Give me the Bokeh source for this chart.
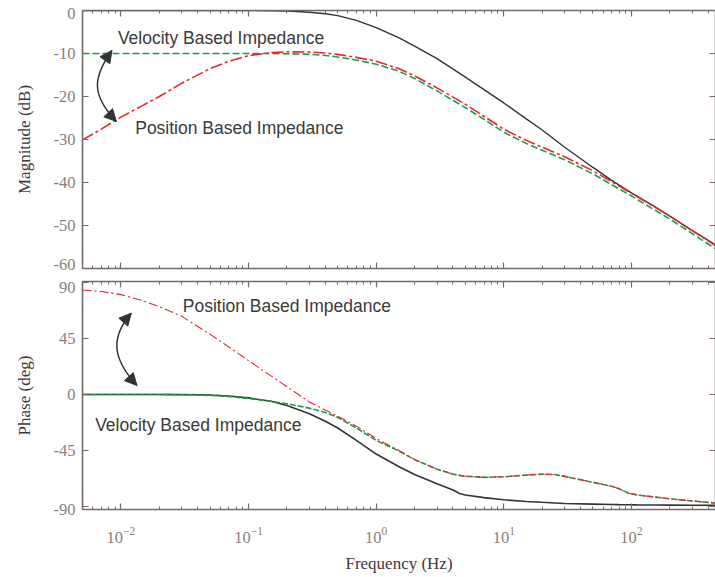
import json
from bokeh.plotting import figure
from bokeh.layouts import column
from bokeh.models import (ColumnDataSource, FixedTicker, LogAxis, LinearAxis,
                          Range1d, Arrow, NormalHead, CustomJSTickFormatter)
from bokeh.core.properties import value
from bokeh.embed import file_html
from bokeh.resources import INLINE

# ---------------- data ----------------
freq_mag = [0.005, 0.007, 0.01, 0.015, 0.02, 0.03, 0.05, 0.07, 0.1, 0.15, 0.2,
            0.3, 0.4, 0.5, 0.7, 1, 1.5, 2, 3, 5, 7, 10, 15, 20, 30, 50, 70,
            100, 150, 200, 300, 456]
black_mag = [0, 0, 0, 0, 0, 0, 0, 0, -0.02, -0.05, -0.1, -0.4, -0.75, -1.2,
             -2.3, -4.0, -6.3, -8.3, -11.2, -15.5, -18.4, -21.5, -25.2, -27.8,
             -31.8, -36.5, -39.5, -42.4, -45.5, -47.8, -51.2, -54.5]
red_mag = [-30.1, -27.6, -24.8, -22.0, -20.0, -16.9, -13.5, -11.8, -10.5,
           -9.8, -9.6, -9.65, -9.9, -10.2, -10.9, -11.8, -13.5, -15.2, -18.0,
           -21.8, -24.6, -27.6, -30.2, -31.8, -34.0, -37.3, -39.8, -42.5,
           -45.6, -47.8, -51.2, -54.7]
green_mag = [-10, -10, -10, -10, -10, -10, -10, -10, -10, -10, -10.05, -10.2,
             -10.45, -10.8, -11.5, -12.5, -14.1, -15.8, -18.7, -22.6, -25.3,
             -28.3, -30.9, -32.5, -34.7, -38.0, -40.5, -43.1, -46.3, -48.5,
             -51.9, -55.4]

freq_ph = [0.005, 0.007, 0.01, 0.015, 0.02, 0.03, 0.04, 0.05, 0.07, 0.1, 0.15,
           0.2, 0.3, 0.4, 0.5, 0.7, 1, 1.5, 2, 3, 4, 4.5, 5, 7, 10, 15, 20,
           25, 30, 50, 70, 80, 95, 110, 150, 200, 300, 456]
black_ph = [0, 0, 0, 0, 0, -0.1, -0.2, -0.4, -1.2, -2.7, -5.5, -8.8, -15.5,
            -21.5, -27, -37, -48, -58, -64.5, -72, -77, -79.8, -81, -83.1,
            -84.9, -86.2, -86.9, -87.4, -87.9, -88.4, -88.7, -88.8, -88.9,
            -89.0, -89.1, -89.2, -89.3, -89.4]
green_ph = [0, 0, 0, 0, 0, -0.2, -0.4, -0.7, -1.6, -3.2, -5.5, -7.4, -11,
            -14.5, -18.5, -27, -37, -45.5, -52.5, -60.2, -64.2, -65.2, -65.9,
            -66.8, -66.3, -65, -64.2, -64.5, -66, -70.8, -74, -76, -79.6,
            -80.9, -82.6, -84.1, -85.8, -87.5]
red_ph = [84.2, 83.1, 80.5, 75.5, 70.8, 63.0, 54.8, 48.5, 38.4, 27.3, 15.0, 6.3,
          -6.0, -12.5, -17.5, -25.5, -35.5, -45, -52.3, -60.2, -64.2, -65.2,
          -65.9, -66.8, -66.3, -65, -64.2, -64.5, -66, -70.8, -74, -76, -79.6,
          -80.9, -82.6, -84.1, -85.8, -87.5]

x_major = [0.01, 0.1, 1, 10, 100]
mag_ticks = [-60, -50, -40, -30, -20, -10, 0]
ph_ticks = [-90, -45, 0, 45, 90]
# tick labels and where they sit (the end labels sit slightly inside the frame)
mag_labels = ["-60", "-50", "-40", "-30", "-20", "-10", "0"]
mag_label_pos = [-59.0, -50, -40, -30, -20, -10, -0.8]
ph_labels = ["-90", "-45", "0", "45", "90"]
ph_label_pos = [-92.3, -45, 0, 45, 86.6]

# annotation texts and positions (x in Hz, y in axis units)
mag_notes = ["Velocity Based Impedance", "Position Based Impedance"]
mag_note_x = [0.00947, 0.01294]
mag_note_y = [-6.3, -27.4]
ph_notes = ["Position Based Impedance", "Velocity Based Impedance"]
ph_note_x = [0.0305, 0.00628]
ph_note_y = [71.0, -24.9]

# curved double arrows: (x0, y0, cx0, cy0, cx1, cy1, x1, y1, sx0, sy0, sx1, sy1)
mag_arrow = (0.0085, -9.3, 0.005922, -15.81, 0.005922, -19.77, 0.009218, -25.81,
             0.007627, -11.26, 0.008074, -24.0)
ph_arrow = (0.012045, 65.6, 0.008052, 45.0, 0.008813, 27.5, 0.013351, 7.3,
            0.010671, 59.44, 0.011787, 13.38)

X_RANGE = (0.005, 456)

# ---------------- styling ----------------
AXIS_COLOR = "#756a66"
TICK_LABEL_COLOR = "#8a7e79"
AXIS_LABEL_COLOR = "#3f3838"
SERIF = "Liberation Serif"
SANS = "Liberation Sans"
BLACK = "#333333"
RED = "#e8262b"
GREEN = "#1f9a4c"
NOTE_COLOR = "#3a3a3a"
TICK_FONT = "16.5px"

x_minor = [m * 10.0 ** e for e in range(-3, 3) for m in range(2, 10)
           if X_RANGE[0] <= m * 10.0 ** e <= X_RANGE[1]]


def style_axis(ax, show_labels, standoff=0):
    ax.axis_line_color = AXIS_COLOR
    ax.axis_line_width = 1.6
    ax.major_tick_line_color = AXIS_COLOR
    ax.minor_tick_line_color = AXIS_COLOR
    ax.major_tick_line_width = 1.2
    ax.minor_tick_line_width = 1.0
    ax.major_tick_in = 6
    ax.major_tick_out = 0
    ax.minor_tick_in = 3
    ax.minor_tick_out = 0
    ax.major_label_text_font = SERIF
    ax.major_label_text_color = TICK_LABEL_COLOR
    ax.major_label_standoff = standoff
    if show_labels:
        ax.major_label_text_font_size = TICK_FONT
    else:
        ax.major_label_text_font_size = "1px"
        ax.major_label_text_alpha = 0
        ax.formatter = CustomJSTickFormatter(code="return ''")
    ax.axis_label_text_font = SERIF
    ax.axis_label_text_font_style = "normal"
    ax.axis_label_text_color = AXIS_LABEL_COLOR
    ax.axis_label_text_font_size = "17px"


def make_fig(yr, yticks, ylabels, ylabel_pos, ylabel, height, top, bottom, xlabels):
    p = figure(x_axis_type="log", x_range=Range1d(*X_RANGE), y_range=Range1d(*yr),
               width=715, height=height, output_backend="svg",
               toolbar_location=None, min_border_left=82, min_border_right=0,
               min_border_top=top, min_border_bottom=bottom)
    p.outline_line_color = None
    p.grid.visible = False

    xa = p.xaxis[0]
    xa.ticker = FixedTicker(ticks=x_major, minor_ticks=x_minor)
    style_axis(xa, xlabels, 17 if xlabels else 0)
    if xlabels:
        xa.axis_label = "Frequency (Hz)"
        xa.axis_label_standoff = 8

    # axis line + inward ticks, no labels
    ya = p.yaxis[0]
    ya.ticker = FixedTicker(ticks=yticks, minor_ticks=[])
    style_axis(ya, False)

    # label-only axis, placed right next to the frame
    lab = LinearAxis(ticker=FixedTicker(ticks=ylabel_pos, minor_ticks=[]))
    style_axis(lab, True, 7)
    lab.axis_line_color = None
    lab.major_tick_line_color = None
    lab.minor_tick_line_color = None
    lab.major_tick_in = 0
    lab.minor_tick_in = 0
    lab.formatter = CustomJSTickFormatter(
        code="const v = %s; const s = %s; let b = 0; "
             "for (let i = 0; i < v.length; i++) "
             "{ if (Math.abs(v[i] - tick) < Math.abs(v[b] - tick)) b = i; } "
             "return s[b];" % (json.dumps(ylabel_pos), json.dumps(ylabels)))
    lab.axis_label = ylabel
    lab.axis_label_standoff = 17
    p.add_layout(lab, "left")

    top_ax = LogAxis(ticker=FixedTicker(ticks=x_major, minor_ticks=x_minor))
    style_axis(top_ax, False)
    p.add_layout(top_ax, "above")
    right_ax = LinearAxis(ticker=FixedTicker(ticks=yticks, minor_ticks=[]))
    style_axis(right_ax, False)
    p.add_layout(right_ax, "right")
    return p


def add_arrow(p, a):
    x0, y0, cx0, cy0, cx1, cy1, x1, y1, sx0, sy0, sx1, sy1 = a
    p.bezier(x0=[x0], y0=[y0], cx0=[cx0], cy0=[cy0], cx1=[cx1], cy1=[cy1],
             x1=[x1], y1=[y1], line_color=BLACK, line_width=1.5)
    for sx, sy, ex, ey in ((sx0, sy0, x0, y0), (sx1, sy1, x1, y1)):
        p.add_layout(Arrow(end=NormalHead(size=12, fill_color=BLACK,
                                          line_color=BLACK, line_width=1),
                           x_start=sx, y_start=sy, x_end=ex, y_end=ey,
                           line_alpha=0))


# ---------------- magnitude ----------------
p1 = make_fig((-60, 0), mag_ticks, mag_labels, mag_label_pos, "Magnitude (dB)",
              274, 10, 6, False)
src_m = ColumnDataSource(dict(f=freq_mag, k=black_mag, r=red_mag, g=green_mag))
p1.line("f", "k", source=src_m, line_color=BLACK, line_width=1.4)
p1.line("f", "g", source=src_m, line_color=GREEN, line_width=1.6, line_dash="7 3")
p1.line("f", "r", source=src_m, line_color=RED, line_width=1.6, line_dash="12 3 3 3")
p1.text(x=mag_note_x, y=mag_note_y, text=mag_notes, text_font=value(SANS),
        text_font_size="17.5px", text_color=NOTE_COLOR, text_baseline="middle",
        text_align="left")
add_arrow(p1, mag_arrow)

# ---------------- phase ----------------
p2 = make_fig((-92.7, 91.1), ph_ticks, ph_labels, ph_label_pos, "Phase (deg)",
              301, 7, 63, True)
src_p = ColumnDataSource(dict(f=freq_ph, k=black_ph, r=red_ph, g=green_ph))
p2.line("f", "k", source=src_p, line_color=BLACK, line_width=1.6)
p2.line("f", "g", source=src_p, line_color=GREEN, line_width=1.6, line_dash="6 2")
p2.line("f", "r", source=src_p, line_color=RED, line_width=1.1, line_dash="9 3 2 3")
p2.text(x=ph_note_x, y=ph_note_y, text=ph_notes, text_font=value(SANS),
        text_font_size="17.5px", text_color=NOTE_COLOR, text_baseline="middle",
        text_align="left")
add_arrow(p2, ph_arrow)

layout = column(p1, p2, spacing=0)
open("out.html", "w").write(file_html(layout, INLINE, title="Bode plot"))
